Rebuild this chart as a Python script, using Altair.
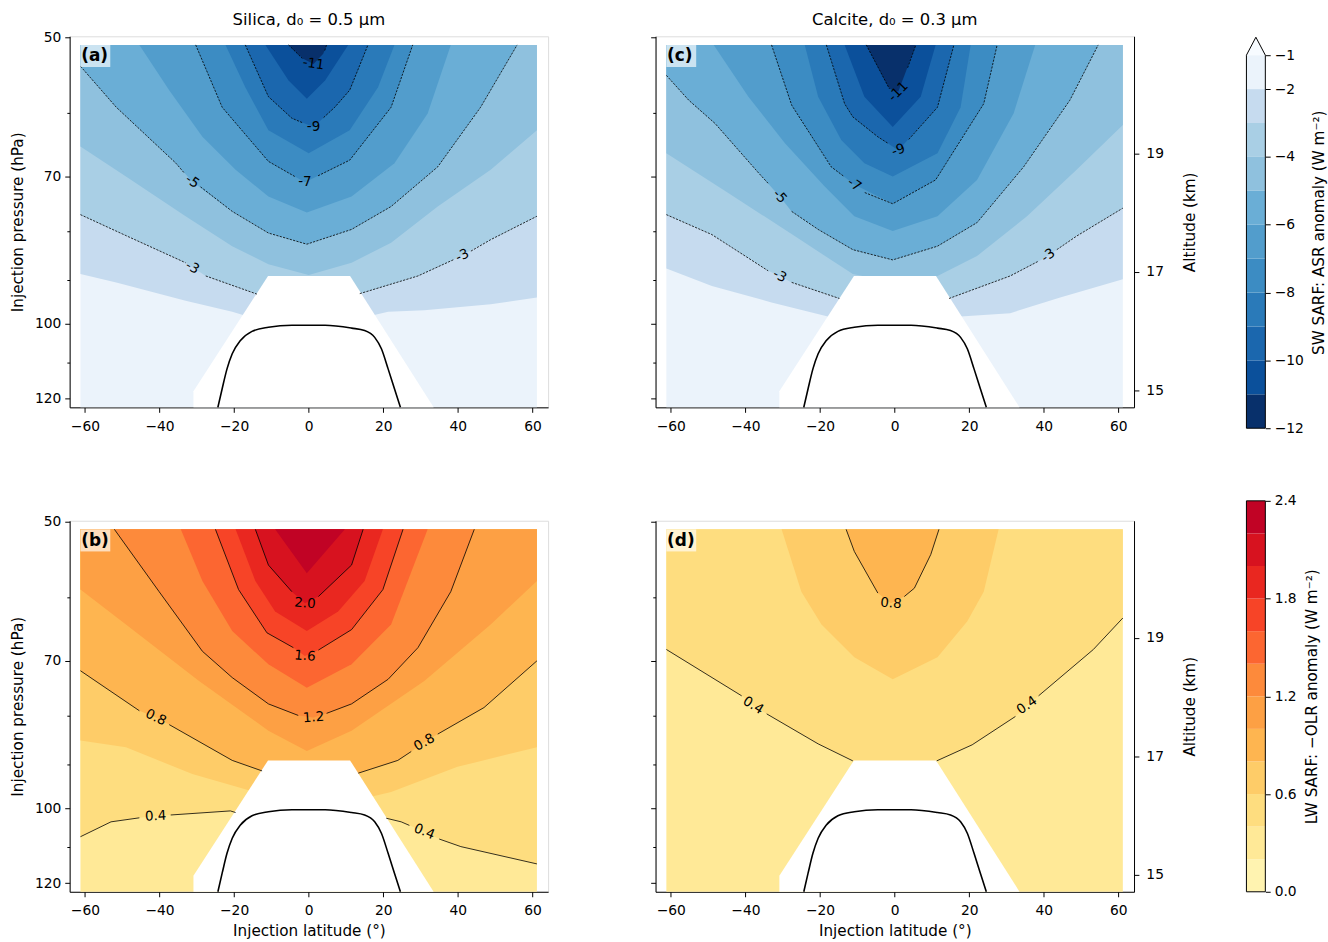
import altair as alt
import pandas as pd

FONT = "DejaVu Sans"

# ---------------- axes / domains ----------------
LAT_DOMAIN = [-64.1, 64.2]
LAT_TICKS = [-60, -40, -20, 0, 20, 40, 60]
P_DOMAIN = [49.85, 122.5]
P_TICKS = [50, 60, 70, 80, 90, 100, 110, 120]
ALT_DOMAIN = [14.715, 20.98]
ALT_TICKS = [15, 17, 19]
FILL_LAT = [-61.2, 61.2]
FILL_P = [50.9, 122.5]

# ---------------- colour levels ----------------
SW_LEVELS = [-12, -11, -10, -9, -8, -7, -6, -5, -4, -3, -2, -1]
SW_TICKS = [-1, -2, -4, -6, -8, -10, -12]
SW_COLORS = ["#08306b", "#0b509b", "#1b67ae", "#2a7ab9", "#3c8cc3", "#529dcc",
             "#6aaed6", "#8fc1de", "#a9cfe5", "#c6dbef", "#ebf3fb"]
SW_OVER = "#f7fbff"
SW_TIP = -0.47
SW_TOP = -0.443
LW_LEVELS = [0.0, 0.2, 0.4, 0.6, 0.8, 1.0, 1.2, 1.4, 1.6, 1.8, 2.0, 2.2, 2.4]
LW_TICKS = [0.0, 0.6, 1.2, 1.8, 2.4]
LW_COLORS = ["#fff3b0", "#ffe997", "#fedd7f", "#fecc68", "#feb550", "#fda044",
             "#fd8a3b", "#fc6631", "#f74427", "#e92720", "#d7121f", "#c10325"]

# ---------------- masked region and tropopause (lat, hPa) ----------------
MASK = [(-30.9, 117.8), (-10.9, 89.1), (11.1, 89.1), (33.5, 122.5)]
TROP = [(-24.35, 122.5), (-23.2, 117.1), (-21.9, 111.6), (-20.5, 107.6), (-18.3, 104.2),
        (-15.2, 101.9), (-10.8, 100.9), (-4.5, 100.4), (4.4, 100.4), (11.5, 101.1),
        (15.0, 101.7), (17.7, 103.4), (19.5, 106.3), (21.3, 111.6), (23.0, 117.1), (24.6, 122.5)]

# ---------------- panel (a): SW, silica ----------------
A_BOUNDS = {
    -2: [(-61.2, 88.7), (-51.6, 90.5), (-33.0, 94.6), (-20.5, 97.2), (-17.4, 98.0), (0.0, 99.7),
         (17.3, 98.0), (21.3, 97.2), (31.0, 96.8), (48.8, 95.4), (61.2, 93.9)],
    -3: [(-61.2, 76.8), (-49.0, 80.8), (-33.0, 86.3), (-27.6, 89.1), (-13.9, 93.1), (0.0, 95.0),
         (13.7, 93.0), (29.3, 89.1), (39.0, 85.6), (48.8, 81.6), (61.2, 77.1)],
    -4: [(-61.2, 65.1), (-49.0, 70.0), (-33.0, 77.1), (-20.5, 82.9), (-10.8, 86.6), (0.0, 88.9),
         (11.5, 86.3), (22.1, 82.2), (34.6, 75.3), (48.8, 68.9), (61.2, 62.6)],
    -5: [(-61.2, 53.6), (-51.6, 59.2), (-35.6, 67.8), (-31.2, 70.9), (-20.5, 76.2), (-10.8, 80.3),
         (-0.5, 82.5), (11.5, 79.6), (22.1, 75.3), (34.6, 68.4), (46.1, 59.2), (55.9, 50.9)],
    -6: [(-45.4, 50.9), (-37.4, 56.8), (-28.5, 63.6), (-19.6, 68.9), (-10.8, 73.5), (-0.5, 76.4),
         (11.5, 73.5), (23.0, 67.8), (31.9, 60.1), (38.1, 50.9)],
    -7: [(-30.3, 50.9), (-23.2, 59.2), (-10.8, 67.5), (-1.0, 71.0), (11.0, 67.3), (22.1, 59.2), (27.9, 50.9)],
    -8: [(-22.3, 50.9), (-17.0, 56.4), (-10.8, 62.6), (0.0, 66.2), (11.0, 62.6), (18.6, 56.4), (23.0, 50.9)],
    -9: [(-17.0, 50.9), (-10.8, 57.7), (-4.5, 60.8), (1.3, 62.1), (7.0, 59.2), (11.0, 56.8), (15.9, 50.9)],
    -10: [(-11.6, 50.9), (-5.4, 55.5), (-0.5, 58.0), (4.4, 55.5), (10.6, 50.9)],
    -11: [(-5.4, 50.9), (-1.6, 52.6), (1.3, 53.3), (3.9, 52.0), (4.8, 50.9)],
}
A_LINES = {
    -3: [[(-61.2, 76.8), (-49.0, 80.8), (-33.0, 86.3)], [(-27.6, 89.1), (-13.9, 93.1)],
         [(13.7, 93.0), (29.3, 89.1), (39.0, 85.6)], [(43.5, 83.9), (48.8, 81.6), (61.2, 77.1)]],
    -5: [[(-61.2, 53.6), (-51.6, 59.2), (-35.6, 67.8), (-33.4, 69.4)],
         [(-29.0, 71.8), (-20.5, 76.2), (-10.8, 80.3), (-0.5, 82.5), (11.5, 79.6), (22.1, 75.3),
          (34.6, 68.4), (46.1, 59.2), (55.9, 50.9)]],
    -7: [[(-30.3, 50.9), (-23.2, 59.2), (-10.8, 67.5), (-3.5, 70.1)],
         [(2.5, 69.9), (11.0, 67.3), (22.1, 59.2), (27.9, 50.9)]],
    -9: [[(-17.0, 50.9), (-10.8, 57.7), (-4.5, 60.8), (-1.5, 61.5)],
         [(4.0, 60.7), (7.0, 59.2), (11.0, 56.8), (15.9, 50.9)]],
    -11: [[(-5.4, 50.9), (-1.7, 52.6)], [(4.3, 51.6), (4.8, 50.9)]],
}
A_LABELS = [(-31.2, 70.9, "-5", 35), (-31.2, 87.3, "-3", 30), (41.2, 84.8, "-3", 335),
            (-1.0, 71.0, "-7", 0), (1.3, 62.1, "-9", 0), (1.3, 53.3, "-11", 8)]

# ---------------- panel (c): SW, calcite ----------------
C_BOUNDS = {
    -2: [(-61.2, 87.5), (-49.0, 91.3), (-33.0, 95.0), (-17.9, 98.3), (0.0, 99.7), (17.7, 98.3),
         (31.0, 97.5), (44.4, 93.9), (61.2, 89.8)],
    -3: [(-61.2, 76.8), (-49.0, 80.6), (-33.9, 88.0), (-30.8, 89.1), (-27.6, 90.5), (-14.8, 94.1),
         (0.0, 95.8), (14.6, 94.1), (31.0, 89.1), (39.5, 85.6), (41.2, 84.8), (48.8, 80.9), (61.2, 75.6)],
    -4: [(-61.2, 66.2), (-44.5, 72.9), (-26.8, 80.9), (-11.2, 88.7), (0.0, 90.5), (11.5, 89.1),
         (22.1, 84.9), (35.5, 77.1), (48.8, 68.9), (61.2, 61.8)],
    -5: [(-61.2, 54.8), (-55.2, 58.2), (-48.1, 61.6), (-36.5, 69.4), (-30.8, 73.5), (-27.6, 76.2),
         (-20.5, 79.6), (-11.2, 83.6), (-0.5, 85.7), (11.5, 82.9), (22.1, 78.3), (34.6, 68.4),
         (47.0, 58.2), (54.6, 50.9)],
    -6: [(-48.5, 50.9), (-39.2, 57.7), (-29.4, 64.6), (-18.8, 71.7), (-10.8, 77.1), (-0.5, 79.9),
         (11.5, 77.1), (22.1, 70.6), (31.9, 60.1), (37.7, 50.9)],
    -7: [(-33.0, 50.9), (-27.6, 58.9), (-17.0, 68.4), (-10.8, 71.4), (-0.5, 74.8), (11.0, 70.6),
         (23.9, 58.7), (27.5, 50.9)],
    -8: [(-24.1, 50.9), (-20.5, 57.7), (-14.3, 64.1), (-8.1, 67.8), (-0.5, 70.0), (11.5, 66.2),
         (17.7, 59.2), (20.4, 50.9)],
    -9: [(-18.3, 50.9), (-13.4, 58.7), (-11.2, 60.6), (-4.5, 63.6), (1.0, 65.7), (11.5, 59.2), (15.9, 50.9)],
    -10: [(-13.4, 50.9), (-8.1, 57.7), (-0.5, 62.1), (7.0, 57.7), (11.0, 50.9)],
    -11: [(-7.6, 50.9), (-1.4, 56.6), (1.0, 57.0), (5.7, 50.9)],
}
C_LINES = {
    -3: [[(-61.2, 76.8), (-49.0, 80.6), (-33.9, 88.0)], [(-27.6, 90.5), (-14.8, 94.1)],
         [(14.6, 94.1), (31.0, 89.1), (38.5, 86.0)], [(43.5, 83.6), (48.8, 80.9), (61.2, 75.6)]],
    -5: [[(-61.2, 54.8), (-55.2, 58.2), (-48.1, 61.6), (-36.5, 69.4), (-33.9, 71.2)],
         [(-27.6, 76.2), (-20.5, 79.6), (-11.2, 83.6), (-0.5, 85.7), (11.5, 82.9), (22.1, 78.3),
          (34.6, 68.4), (47.0, 58.2), (54.6, 50.9)]],
    -7: [[(-33.0, 50.9), (-27.6, 58.9), (-17.0, 68.4), (-13.6, 70.0)],
         [(-8.0, 72.8), (-0.5, 74.8), (11.0, 70.6), (23.9, 58.7), (27.5, 50.9)]],
    -9: [[(-18.3, 50.9), (-13.4, 58.7), (-11.2, 60.6), (-4.5, 63.6), (-1.8, 64.6)],
         [(3.8, 64.0), (11.5, 59.2), (15.9, 50.9)]],
    -11: [[(-7.6, 50.9), (-1.4, 56.6)], [(3.5, 53.8), (5.7, 50.9)]],
}
C_LABELS = [(-30.8, 73.5, "-5", 48), (-30.8, 89.1, "-3", 27), (41.2, 84.8, "-3", 325),
            (-10.8, 71.4, "-7", 35), (1.0, 65.7, "-9", 340), (1.0, 57.0, "-11", 315)]

# ---------------- panel (b): LW, silica ----------------
B_BOUNDS = {
    0.4: [(-61.2, 107.2), (-53.0, 103.4), (-45.4, 102.4), (-41.0, 102.0), (-37.0, 101.7), (-21.0, 100.7),
          (-19.6, 101.1), (0.0, 101.7), (20.8, 102.5), (24.8, 103.4), (31.0, 105.9), (34.6, 107.6),
          (40.8, 109.8), (61.2, 114.5)],
    0.6: [(-61.2, 84.9), (-49.0, 86.3), (-31.2, 92.1), (-15.6, 95.9), (0.0, 98.1), (17.3, 97.2),
          (22.1, 96.2), (39.9, 90.5), (61.2, 86.3)],
    0.8: [(-61.2, 71.7), (-45.4, 79.0), (-41.0, 80.3), (-37.4, 81.7), (-20.5, 89.1), (-12.5, 91.4),
          (0.0, 92.8), (13.3, 91.9), (23.9, 89.1), (27.5, 87.2), (31.0, 85.3), (34.6, 83.6),
          (47.0, 78.4), (61.2, 70.0)],
    1.0: [(-61.2, 58.9), (-49.0, 64.1), (-29.4, 73.5), (-10.8, 82.9), (-0.5, 87.1), (11.5, 82.9),
          (31.0, 73.5), (48.8, 64.1), (61.2, 57.7)],
    1.2: [(-52.1, 50.9), (-40.1, 59.2), (-28.5, 68.4), (-20.5, 72.9), (-10.8, 77.7), (-2.8, 79.9),
          (1.3, 80.3), (4.8, 79.5), (11.5, 77.7), (21.3, 73.2), (29.3, 67.8), (38.1, 59.2), (44.4, 50.9)],
    1.4: [(-34.3, 50.9), (-28.5, 57.7), (-20.5, 65.1), (-10.8, 70.6), (-0.5, 74.7), (11.5, 70.6),
          (22.1, 64.1), (31.9, 50.9)],
    1.6: [(-25.0, 50.9), (-18.8, 58.9), (-11.2, 65.4), (-4.1, 67.8), (-1.0, 69.2), (2.6, 68.2),
          (11.5, 64.9), (19.9, 58.9), (25.3, 50.9)],
    1.8: [(-19.6, 50.9), (-14.3, 57.7), (-9.0, 62.1), (-0.5, 65.1), (7.9, 62.1), (15.0, 57.7), (19.9, 50.9)],
    2.0: [(-14.3, 50.9), (-10.8, 55.5), (-4.5, 59.2), (-1.0, 60.9), (2.6, 59.9), (11.5, 55.5), (14.6, 50.9)],
    2.2: [(-9.0, 50.9), (-0.5, 56.6), (9.7, 50.9)],
}
B_LINES = {
    0.4: [[(-61.2, 107.2), (-53.0, 103.4), (-45.4, 102.4)], [(-37.0, 101.7), (-21.0, 100.7), (-19.6, 101.1)],
          [(20.8, 102.5), (24.8, 103.4), (27.0, 104.3)], [(35.0, 107.8), (40.8, 109.8), (61.2, 114.5)]],
    0.8: [[(-61.2, 71.7), (-45.4, 79.0)], [(-37.4, 81.7), (-20.5, 89.1), (-12.5, 91.4)],
          [(13.3, 91.9), (23.9, 89.1), (27.5, 87.2)], [(34.6, 83.6), (47.0, 78.4), (61.2, 70.0)]],
    1.2: [[(-52.1, 50.9), (-40.1, 59.2), (-28.5, 68.4), (-20.5, 72.9), (-10.8, 77.7), (-2.8, 79.9)],
          [(4.8, 79.5), (11.5, 77.7), (21.3, 73.2), (29.3, 67.8), (38.1, 59.2), (44.4, 50.9)]],
    1.6: [[(-25.0, 50.9), (-18.8, 58.9), (-11.2, 65.4), (-4.1, 67.8)],
          [(2.6, 68.2), (11.5, 64.9), (19.9, 58.9), (25.3, 50.9)]],
    2.0: [[(-14.3, 50.9), (-10.8, 55.5), (-4.5, 59.2)], [(2.6, 59.9), (11.5, 55.5), (14.6, 50.9)]],
}
B_LABELS = [(-41.0, 102.0, "0.4", 357), (31.0, 105.9, "0.4", 22), (-41.0, 80.3, "0.8", 26),
            (31.0, 85.3, "0.8", 330), (1.3, 80.3, "1.2", 356), (-1.0, 69.2, "1.6", 5), (-1.0, 60.9, "2.0", 5)]

# ---------------- panel (d): LW, calcite ----------------
D_BOUNDS = {
    0.4: [(-61.2, 68.1), (-41.0, 76.2), (-37.9, 78.0), (-34.3, 79.6), (-20.5, 85.6), (-11.2, 89.2),
          (0.0, 90.5), (11.3, 89.2), (20.8, 85.8), (32.4, 80.1), (35.5, 78.0), (38.6, 76.2),
          (53.3, 68.1), (61.2, 63.1)],
    0.6: [(-30.3, 50.9), (-25.0, 59.2), (-19.6, 64.1), (-10.8, 69.4), (-0.5, 73.2), (11.5, 69.4),
          (19.5, 63.6), (23.9, 59.2), (27.9, 50.9)],
    0.8: [(-13.0, 50.9), (-10.8, 53.7), (-4.5, 59.4), (-1.0, 60.9), (2.6, 59.9), (5.3, 58.7),
          (9.7, 54.1), (11.9, 50.9)],
}
D_LINES = {
    0.4: [[(-61.2, 68.1), (-41.0, 76.2)], [(-34.3, 79.6), (-20.5, 85.6), (-11.2, 89.2)],
          [(11.3, 89.2), (20.8, 85.8), (32.4, 80.1)], [(38.6, 76.2), (53.3, 68.1), (61.2, 63.1)]],
    0.8: [[(-13.0, 50.9), (-10.8, 53.7), (-4.5, 59.4)], [(2.6, 59.9), (5.3, 58.7), (9.7, 54.1), (11.9, 50.9)]],
}
D_LABELS = [(-37.9, 78.0, "0.4", 32), (35.5, 78.0, "0.4", 325), (-1.0, 60.9, "0.8", 5)]

TAG_BOX = [-61.2, -53.2, 50.9, 53.7]
TAG_POS = [-61.0, 52.3]

# ---------------- layout constants ----------------
W, H = 481, 373
CB_W = 19
CB1_H = 394
CB2_H = 393
ROW_GAP = 80
COLBAR_GAP = 57
GAP_12 = 71
GAP_23 = 45
TITLE_OFFSET = -11
CB_TITLE_OFFSET = -4

AX = dict(grid=False, domainColor="black", tickColor="black", titleColor="black",
          labelFont=FONT, titleFont=FONT, labelFontSize=13.9, titleFontSize=15.3,
          titleFontWeight="normal", tickWidth=1, domainWidth=1)

XS = alt.Scale(domain=LAT_DOMAIN, nice=False, zero=False)
PS = alt.Scale(type="log", domain=P_DOMAIN, nice=False, reverse=True)


def sw_color(lev):
    return SW_COLORS[lev + 11]


def lw_color(lev):
    return LW_COLORS[int(round(lev / 0.2))]


def make_panel(bounds, lines, labels, color_fn, base_color, dashed, tag,
               left_labels, x_title, right_axis, title):
    xax = alt.Axis(values=LAT_TICKS, format="d", tickSize=5, labelColor="black", labelPadding=7,
                   title="Injection latitude (°)" if x_title else None, titlePadding=6, **AX)
    yax = alt.Axis(values=P_TICKS, format="d", labelPadding=4,
                   labelExpr="indexof([50,70,100,120], datum.value) >= 0 ? datum.label : ''",
                   tickSize={"condition": {"test": "indexof([50,70,100,120], datum.value) < 0", "value": 2.8},
                             "value": 4.9},
                   labelColor="black" if left_labels else "transparent",
                   title="Injection pressure (hPa)" if left_labels else None, titlePadding=9, **AX)

    def X(f="lat"):
        return alt.X(f"{f}:Q", scale=XS, axis=xax)

    def Y(f="p"):
        return alt.Y(f"{f}:Q", scale=PS, axis=yax)

    layers = []
    base = pd.DataFrame({"lat0": [FILL_LAT[0]], "lat1": [FILL_LAT[1]], "p0": [FILL_P[0]], "p1": [FILL_P[1]]})
    layers.append(alt.Chart(base).mark_rect(color=base_color).encode(
        x=X("lat0"), x2="lat1:Q", y=Y("p0"), y2="p1:Q"))

    order = sorted(bounds.keys(), reverse=dashed)
    for lev in order:
        df = pd.DataFrame(bounds[lev], columns=["lat", "p"])
        layers.append(alt.Chart(df).mark_area(color=color_fn(lev), interpolate="linear").encode(
            x=X(), y=Y(), y2=alt.datum(FILL_P[0])))

    mask = pd.DataFrame(MASK, columns=["lat", "p"])
    layers.append(alt.Chart(mask).mark_area(color="white").encode(
        x=X(), y=Y(), y2=alt.datum(FILL_P[1])))

    rows = []
    s = 0
    for lev, segs in lines.items():
        for seg in segs:
            for i, (la, p) in enumerate(seg):
                rows.append({"seg": s, "i": i, "lat": la, "p": p})
            s += 1
    ldf = pd.DataFrame(rows)
    lkw = dict(color="black", strokeWidth=0.8)
    if dashed:
        lkw["strokeDash"] = [2.2, 1.3]
    layers.append(alt.Chart(ldf).mark_line(**lkw).encode(
        x=X(), y=Y(), detail="seg:N", order="i:Q"))

    tdf = pd.DataFrame(TROP, columns=["lat", "p"]).reset_index().rename(columns={"index": "i"})
    layers.append(alt.Chart(tdf).mark_line(color="black", strokeWidth=1.6, interpolate="monotone").encode(
        x=X(), y=Y(), order="i:Q"))

    labdf = pd.DataFrame(labels, columns=["lat", "p", "txt", "ang"])
    layers.append(alt.Chart(labdf).mark_text(font=FONT, fontSize=13.5, color="black",
                                             align="center", baseline="middle").encode(
        x=X(), y=Y(), text="txt:N", angle=alt.Angle("ang:Q", scale=None)))

    box = pd.DataFrame({"lat0": [TAG_BOX[0]], "lat1": [TAG_BOX[1]], "p0": [TAG_BOX[2]], "p1": [TAG_BOX[3]]})
    layers.append(alt.Chart(box).mark_rect(color="white", opacity=0.65).encode(
        x=X("lat0"), x2="lat1:Q", y=Y("p0"), y2="p1:Q"))
    tagdf = pd.DataFrame({"lat": [TAG_POS[0]], "p": [TAG_POS[1]], "txt": [tag]})
    layers.append(alt.Chart(tagdf).mark_text(font=FONT, fontSize=17, fontWeight="bold", color="black",
                                             align="left", baseline="middle").encode(
        x=X(), y=Y(), text="txt:N"))

    chart = alt.layer(*layers)
    if right_axis:
        aax = alt.Axis(orient="right", values=ALT_TICKS, format="d", tickSize=4.9, labelColor="black",
                       labelPadding=7, title="Altitude (km)", titleAngle=270, titleBaseline="top",
                       titlePadding=19, **AX)
        adf = pd.DataFrame({"lat": [0.0, 0.0], "alt": [16.0, 18.0]})
        alt_layer = alt.Chart(adf).mark_point(opacity=0).encode(
            x=X(), y=alt.Y("alt:Q", scale=alt.Scale(domain=ALT_DOMAIN, nice=False, zero=False), axis=aax))
        chart = alt.layer(chart, alt_layer).resolve_scale(y="independent")
    props = dict(width=W, height=H)
    if title:
        props["title"] = alt.TitleParams(text=title, font=FONT, fontSize=16.5, fontWeight="normal",
                                         color="black", anchor="middle", frame="group",
                                         baseline="alphabetic", offset=TITLE_OFFSET)
    return chart.properties(**props)


def make_colorbar(levels, colors, ticks, fmt, title, height, domain, over=None, tip=None, top_title=False):
    n = len(colors)
    bars = pd.DataFrame({"lo": levels[:-1], "hi": levels[1:], "col": colors,
                         "x0": [0.0] * n, "x1": [1.0] * n})
    yax = alt.Axis(orient="right", values=ticks, format=fmt, domain=False, tickSize=4.9,
                   labelColor="black", labelPadding=4, title=title, titleAngle=270, titleBaseline="top",
                   titlePadding=8, **AX)
    CX = alt.X("x0:Q", scale=alt.Scale(domain=[0, 1], nice=False, zero=False), axis=None)
    CY = alt.Y("lo:Q", scale=alt.Scale(domain=domain, nice=False, zero=False), axis=yax)
    layers = [alt.Chart(bars).mark_rect().encode(
        x=CX, x2="x1:Q", y=CY, y2="hi:Q", color=alt.Color("col:N", scale=None))]
    lo, hi = levels[0], levels[-1]
    if over is not None:
        tri = pd.DataFrame({"x0": [0.0, 0.5, 1.0], "lo": [hi, tip, hi], "hi": [hi, hi, hi]})
        layers.append(alt.Chart(tri).mark_area(color=over).encode(x=CX, y=CY, y2="hi:Q"))
        outline = [(0, lo), (0, hi), (0.5, tip), (1, hi), (1, lo), (0, lo)]
    else:
        outline = [(0, lo), (0, hi), (1, hi), (1, lo), (0, lo)]
    odf = pd.DataFrame([{"x0": a, "lo": b, "o": i} for i, (a, b) in enumerate(outline)])
    layers.append(alt.Chart(odf).mark_line(color="black", strokeWidth=1).encode(x=CX, y=CY, order="o:Q"))
    props = dict(width=CB_W, height=height, view=alt.ViewBackground(stroke="transparent"))
    if top_title:
        props["title"] = alt.TitleParams(text="I", font=FONT, fontSize=16.5, color="transparent",
                                         anchor="middle", frame="group", baseline="alphabetic",
                                         offset=CB_TITLE_OFFSET)
    return alt.layer(*layers).properties(**props)


pa = make_panel(A_BOUNDS, A_LINES, A_LABELS, sw_color, SW_COLORS[10], True, "(a)",
                True, False, False, "Silica, d₀ = 0.5 μm")
pc = make_panel(C_BOUNDS, C_LINES, C_LABELS, sw_color, SW_COLORS[10], True, "(c)",
                False, False, True, "Calcite, d₀ = 0.3 μm")
pb = make_panel(B_BOUNDS, B_LINES, B_LABELS, lw_color, LW_COLORS[1], False, "(b)",
                True, True, False, None)
pdd = make_panel(D_BOUNDS, D_LINES, D_LABELS, lw_color, LW_COLORS[1], False, "(d)",
                 False, True, True, None)

cb1 = make_colorbar(SW_LEVELS, SW_COLORS, SW_TICKS, "d", "SW SARF: ASR anomaly (W m⁻²)",
                    CB1_H, [-12, SW_TOP], over=SW_OVER, tip=SW_TIP, top_title=True)
cb2 = make_colorbar(LW_LEVELS, LW_COLORS, LW_TICKS, ".1f", "LW SARF: −OLR anomaly (W m⁻²)",
                    CB2_H, [0, 2.4])

left = alt.hconcat(alt.vconcat(pa, pb, spacing=ROW_GAP), alt.vconcat(pc, pdd, spacing=ROW_GAP), spacing=GAP_12)
right = alt.vconcat(cb1, cb2, spacing=COLBAR_GAP)

chart = alt.hconcat(left, right, spacing=GAP_23).properties(
    padding={"left": 10, "top": 6, "right": 0, "bottom": 0},
    background="white",
).configure_view(stroke="black", strokeWidth=1.1).configure(font=FONT)

chart.save("out.html", embed_options={"renderer": "svg", "actions": False})
